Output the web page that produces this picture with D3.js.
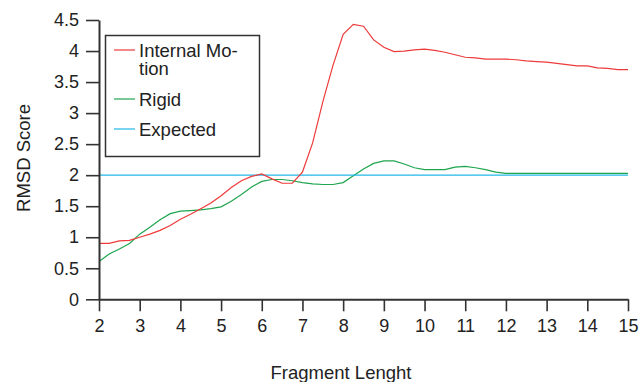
<!DOCTYPE html>
<html>
<head>
<meta charset="utf-8">
<script src="https://cdn.jsdelivr.net/npm/d3@7"></script>
<style>
  body { margin: 0; background: #fff; }
  svg { font-family: "Liberation Sans", Arial, Helvetica, sans-serif; }
</style>
</head>
<body>
<div id="chart"></div>
<script>
// fragment length samples (x)
const fragLen = [2, 2.25, 2.5, 2.75, 3, 3.25, 3.5, 3.75, 4, 4.25, 4.5, 4.75, 5, 5.25, 5.5, 5.75,
  6, 6.25, 6.5, 6.75, 7, 7.25, 7.5, 7.75, 8, 8.25, 8.5, 8.75, 9, 9.25, 9.5, 9.75,
  10, 10.25, 10.5, 10.75, 11, 11.25, 11.5, 11.75, 12, 12.25, 12.5, 12.75, 13, 13.25, 13.5, 13.75,
  14, 14.25, 14.5, 14.75, 15];

const internalMotion = [0.90, 0.90, 0.94, 0.95, 1.00, 1.05, 1.11, 1.19, 1.29, 1.37, 1.46, 1.55, 1.67, 1.80, 1.91, 1.98,
  2.02, 1.94, 1.87, 1.87, 2.05, 2.52, 3.18, 3.77, 4.27, 4.43, 4.40, 4.18, 4.06, 3.99, 4.00, 4.02,
  4.03, 4.01, 3.98, 3.94, 3.90, 3.89, 3.87, 3.87, 3.87, 3.86, 3.84, 3.83, 3.82, 3.80, 3.78, 3.76,
  3.76, 3.73, 3.72, 3.70, 3.70];

const rigid = [0.61, 0.73, 0.81, 0.90, 1.05, 1.16, 1.28, 1.38, 1.42, 1.43, 1.44, 1.46, 1.49, 1.58, 1.69, 1.81,
  1.90, 1.93, 1.93, 1.91, 1.88, 1.86, 1.85, 1.85, 1.88, 1.99, 2.10, 2.19, 2.23, 2.23, 2.18, 2.12,
  2.09, 2.09, 2.09, 2.13, 2.14, 2.12, 2.09, 2.05, 2.03, 2.03, 2.03, 2.03, 2.03, 2.03, 2.03, 2.03,
  2.03, 2.03, 2.03, 2.03, 2.03];

const expectedValue = 2;

const xTicks = [2, 3, 4, 5, 6, 7, 8, 9, 10, 11, 12, 13, 14, 15];
const yTicks = [0, 0.5, 1, 1.5, 2, 2.5, 3, 3.5, 4, 4.5];
const yTickLabels = ["0", "0.5", "1", "1.5", "2", "2.5", "3", "3.5", "4", "4.5"];

const seriesNames = ["Internal Mo-|tion", "Rigid", "Expected"];
const colors = ["#ee3a3a", "#1ea54e", "#22b8e8"];

const width = 643, height = 382;
const margin = { top: 20, right: 15, bottom: 83, left: 99 };

const svg = d3.select("#chart")
  .append("svg")
  .attr("width", width)
  .attr("height", height);

const x = d3.scaleLinear()
  .domain([2, 15])
  .range([margin.left, 628]);

const y = d3.scaleLinear()
  .domain([0, 4.5])
  .range([299.3, margin.top]);

// lines
const line = d3.line()
  .x((d) => x(d[0]))
  .y((d) => y(d[1]));

const expected = fragLen.map((v) => [v, expectedValue]);
const lines = [
  { values: fragLen.map((v, i) => [v, rigid[i]]), color: colors[1] },
  { values: expected, color: colors[2] },
  { values: fragLen.map((v, i) => [v, internalMotion[i]]), color: colors[0] },
];

svg.append("g")
  .selectAll("path")
  .data(lines)
  .enter()
  .append("path")
  .attr("d", (d) => line(d.values))
  .attr("fill", "none")
  .attr("stroke", (d) => d.color)
  .attr("stroke-width", 1.2);

// axes
const axisColor = "#333";

const yAxis = svg.append("g")
  .attr("transform", `translate(${margin.left},0)`)
  .call(d3.axisLeft(y)
    .tickValues(yTicks)
    .tickFormat((d, i) => yTickLabels[i])
    .tickSize(13)
    .tickSizeOuter(0)
    .tickPadding(7));

const xAxis = svg.append("g")
  .attr("transform", `translate(0,${y(0)})`)
  .call(d3.axisBottom(x)
    .tickValues(xTicks)
    .tickFormat(d3.format("d"))
    .tickSize(12)
    .tickSizeOuter(0)
    .tickPadding(8));

[yAxis, xAxis].forEach((g) => {
  g.select(".domain").attr("stroke", axisColor).attr("stroke-width", 2);
  g.selectAll(".tick line").attr("stroke", axisColor).attr("stroke-width", 1.6);
  g.selectAll(".tick text")
    .attr("fill", "#222")
    .style("font-size", "18px")
    .style("font-family", "'Liberation Sans', Arial, sans-serif");
});

// axis titles
svg.append("text")
  .attr("x", 341)
  .attr("y", 379)
  .attr("text-anchor", "middle")
  .attr("fill", "#222")
  .style("font-size", "18.5px")
  .text("Fragment Lenght");

svg.append("text")
  .attr("transform", "translate(30,158) rotate(-90)")
  .attr("text-anchor", "middle")
  .attr("fill", "#222")
  .style("font-size", "18.5px")
  .text("RMSD Score");

// legend
const legend = svg.append("g");
legend.append("rect")
  .attr("x", 105.5)
  .attr("y", 35.5)
  .attr("width", 154)
  .attr("height", 121)
  .attr("fill", "#fff")
  .attr("stroke", "#333")
  .attr("stroke-width", 1.5);

const legendRows = [50, 99, 129];
const legendBase = [57, 106, 136];

seriesNames.forEach((name, i) => {
  legend.append("line")
    .attr("x1", 114)
    .attr("x2", 135)
    .attr("y1", legendRows[i])
    .attr("y2", legendRows[i])
    .attr("stroke", colors[i])
    .attr("stroke-width", 1.2);
  const t = legend.append("text")
    .attr("x", 139)
    .attr("y", legendBase[i])
    .attr("fill", "#222")
    .style("font-size", "18.5px");
  name.split("|").forEach((part, j) => {
    t.append("tspan")
      .attr("x", 139)
      .attr("dy", j === 0 ? 0 : 18)
      .text(part);
  });
});
</script>
</body>
</html>
